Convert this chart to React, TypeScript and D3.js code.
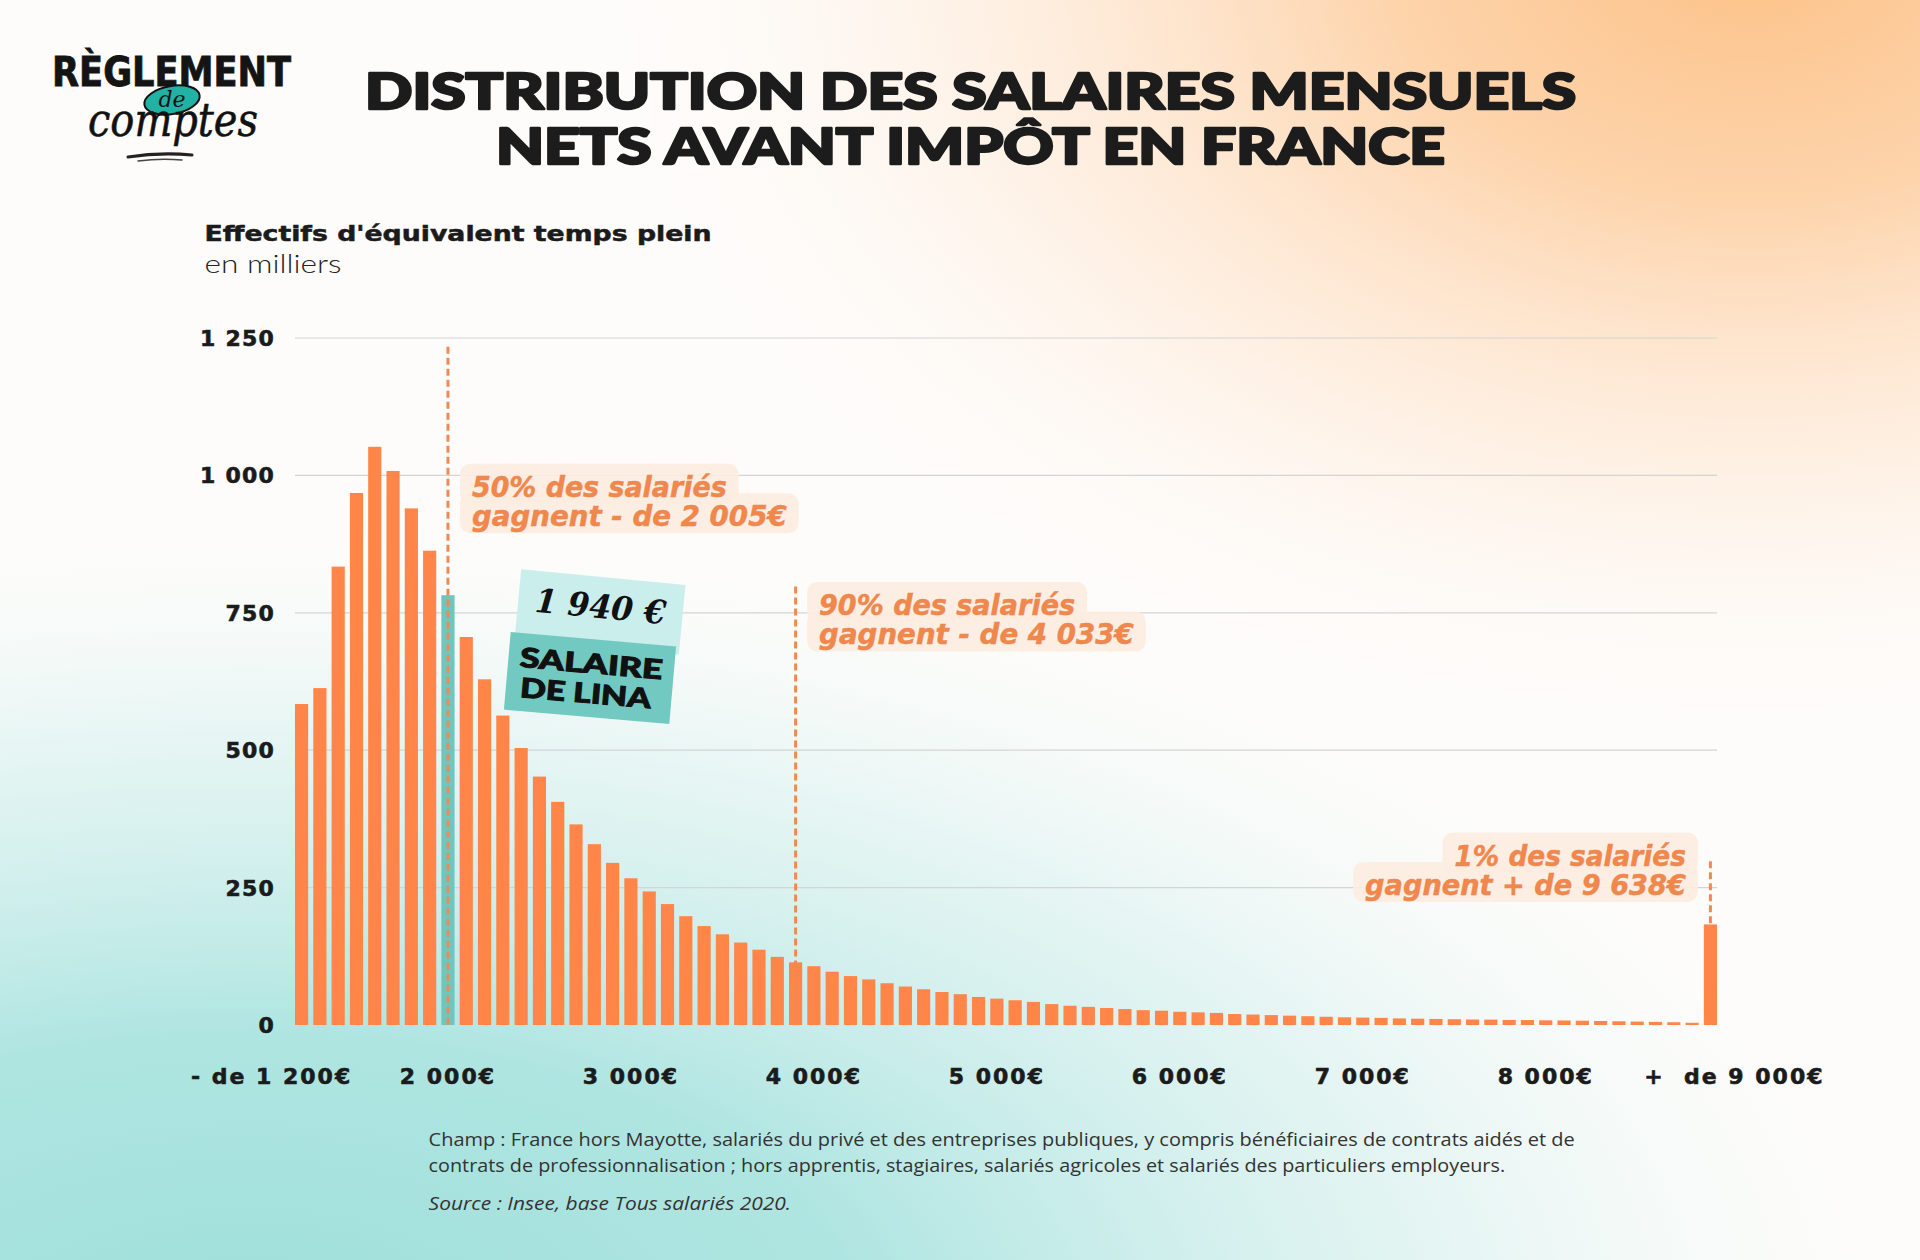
import React from "react";
import * as d3 from "d3";

// ---------- DATA ----------
// Monthly net salary bins (100 € wide), plus the two open-ended classes
const binStarts: number[] = d3.range(1200, 8800, 100);
const fmtThousands = (v: number) => d3.format(",")(v).replace(",", " ");
const categories: string[] = ["< 1 200", ...binStarts.map(fmtThousands), "> 9 000"];

// Full-time-equivalent workforce, in thousands
const workforce: number[] = [
  584, 613, 834, 968, 1052, 1008, 940, 863, 782, 706,
  629, 563, 504, 452, 406, 365, 329, 295, 267, 243,
  220, 198, 180, 165, 150, 137, 124, 114, 107, 97,
  89, 83, 76, 70, 65, 60, 56, 51, 48, 45,
  42, 38, 35, 33, 31, 29, 27, 26, 24, 23,
  22, 20, 19, 18, 17, 16, 15, 14, 13.5, 13,
  12, 11.5, 11, 10.5, 10, 9.8, 9.2, 9, 8.5, 8.2,
  7.8, 7.3, 6.8, 6.2, 5.6, 5, 4, 183,
];

const linaCategory = "1 900";
const linaSalary = "1 940 €";

const yTicks: number[] = [0, 250, 500, 750, 1000, 1250];
const yTickLabels: string[] = ["0", "250", "500", "750", "1 000", "1 250"];

const xTickCats: string[] = ["< 1 200", "1 900", "2 900", "3 900", "4 900", "5 900", "6 900", "7 900", "> 9 000"];
const xTickLabels: string[] = ["- de 1 200€", "2 000€", "3 000€", "4 000€", "5 000€", "6 000€", "7 000€", "8 000€", "+  de 9 000€"];

const annotationCats: string[] = ["1 900", "3 800", "> 9 000"];
const annotationTexts: string[][] = [
  ["50% des salariés", "gagnent - de 2 005€"],
  ["90% des salariés", "gagnent - de 4 033€"],
  ["1% des salariés", "gagnent + de 9 638€"],
];

const titleLines: string[] = ["DISTRIBUTION DES SALAIRES MENSUELS", "NETS AVANT IMPÔT EN FRANCE"];
const yTitle = "Effectifs d'équivalent temps plein";
const yUnit = "en milliers";
const notes: string[] = [
  "Champ : France hors Mayotte, salariés du privé et des entreprises publiques, y compris bénéficiaires de contrats aidés et de",
  "contrats de professionnalisation ; hors apprentis, stagiaires, salariés agricoles et salariés des particuliers employeurs.",
];
const source = "Source : Insee, base Tous salariés 2020.";

// ---------- COMPONENT ----------
const W = 1920;
const H = 1260;

const ORANGE = "#FF8548";
const TEAL_BAR = "#6EC6BF";
const ANNOT = "#F0874D";
const INK = "#1B1B1B";

export default function App() {
  const x = d3
    .scaleBand<string>()
    .domain(categories)
    .range([295, 1717])
    .paddingInner(0.28)
    .paddingOuter(0);
  const y = d3.scaleLinear().domain([0, 1250]).range([1025, 338]);
  const bw = x.bandwidth();
  const cx = (c: string) => (x(c) ?? 0) + bw / 2;

  const data = categories.map((c, i) => ({ c, v: workforce[i] }));

  // annotation layout (positions in chart units)
  const annotLayout = [
    { anchor: "start", dx: 24, top: 1234, bottomToBar: false, b1: 961, widths: [254.7, 314.7] },
    { anchor: "start", dx: 23.5, top: 798, bottomToBar: false, b1: 746, widths: [256, 314.7] },
    { anchor: "end", dx: -24.5, top: 298, bottomToBar: true, b1: 290, widths: [231.4, 320.8] },
  ];
  const lineGap = 29.4;

  const xTickDx = (i: number) => (i === 0 ? -30 : i === xTickCats.length - 1 ? 24 : 0);

  return (
    <svg
      width={W}
      height={H}
      viewBox={`0 0 ${W} ${H}`}
      style={{ position: "absolute", left: 0, top: 0, display: "block" }}
    >
      <defs>
        <radialGradient
          id="bgOrange"
          gradientUnits="userSpaceOnUse"
          cx={0}
          cy={0}
          r={1000}
          gradientTransform="translate(1750,-40) scale(1.2,0.8)"
        >
          <stop offset="0" stopColor="#FCC288" stopOpacity={1} />
          <stop offset="0.3" stopColor="#FDCEA0" stopOpacity={0.88} />
          <stop offset="0.65" stopColor="#FEE6D0" stopOpacity={0.5} />
          <stop offset="1" stopColor="#FFFFFF" stopOpacity={0} />
        </radialGradient>
        <radialGradient
          id="bgTeal"
          gradientUnits="userSpaceOnUse"
          cx={0}
          cy={0}
          r={1000}
          gradientTransform="translate(250,1330) scale(1.75,0.85)"
        >
          <stop offset="0" stopColor="#9EDFDA" stopOpacity={1} />
          <stop offset="0.35" stopColor="#ABE4E0" stopOpacity={0.95} />
          <stop offset="0.7" stopColor="#D6F1EF" stopOpacity={0.6} />
          <stop offset="1" stopColor="#FFFFFF" stopOpacity={0} />
        </radialGradient>
      </defs>

      {/* background */}
      <rect x={0} y={0} width={W} height={H} fill="#FEFCFA" />
      <rect x={0} y={0} width={W} height={H} fill="url(#bgOrange)" />
      <rect x={0} y={0} width={W} height={H} fill="url(#bgTeal)" />

      {/* logo */}
      <g>
        <text
          x={52}
          y={86}
          fontFamily="'Liberation Sans Narrow', 'DejaVu Sans Condensed', 'Roboto', sans-serif"
          fontWeight={700}
          fontSize={40}
          textLength={239}
          lengthAdjust="spacingAndGlyphs"
          fill="#141414"
          stroke="#141414"
          strokeWidth={0.8}
        >
          RÈGLEMENT
        </text>
        <ellipse cx={172} cy={100} rx={28} ry={14} transform="rotate(-10 172 100)" fill="#22B2A5" stroke="#111" strokeWidth={2} />
        <text x={172} y={107} textAnchor="middle" fontFamily="'DejaVu Serif', 'Liberation Serif', serif" fontStyle="italic" fontSize={22} fill="#111">
          de
        </text>
        <text
          x={88}
          y={136}
          fontFamily="'DejaVu Serif', 'Liberation Serif', serif"
          fontStyle="italic"
          fontSize={46}
          textLength={170}
          lengthAdjust="spacingAndGlyphs"
          fill="#111"
          stroke="#111"
          strokeWidth={0.6}
        >
          comptes
        </text>
        <path d="M128,157 Q160,152 192,155" stroke="#222" strokeWidth={3} fill="none" strokeLinecap="round" />
        <path d="M138,161 Q160,158 182,160" stroke="#444" strokeWidth={1.5} fill="none" strokeLinecap="round" />
      </g>

      {/* title */}
      {titleLines.map((t, i) => (
        <text
          key={t}
          x={970.5}
          y={109 + i * 55}
          textAnchor="middle"
          fontFamily="Lato, Inter, 'DejaVu Sans', sans-serif"
          fontWeight={900}
          fontSize={50}
          textLength={i === 0 ? 1211 : 949}
          lengthAdjust="spacingAndGlyphs"
          fill="#1C1C1C"
          stroke="#1C1C1C"
          strokeWidth={2.6}
          strokeLinejoin="round"
        >
          {t}
        </text>
      ))}

      {/* axis title */}
      <text
        x={204.5}
        y={241}
        fontFamily="'DejaVu Sans', sans-serif"
        fontWeight={700}
        fontSize={21}
        textLength={507}
        lengthAdjust="spacingAndGlyphs"
        fill={INK}
        stroke={INK}
        strokeWidth={0.5}
      >
        {yTitle}
      </text>
      <text
        x={204.5}
        y={273}
        fontFamily="Lato, 'Open Sans', sans-serif"
        fontWeight={300}
        fontSize={25}
        textLength={137}
        lengthAdjust="spacingAndGlyphs"
        fill="#222"
      >
        {yUnit}
      </text>

      {/* gridlines */}
      {yTicks
        .filter((t) => t > 0)
        .map((t) => (
          <line key={t} x1={295} x2={1717} y1={y(t)} y2={y(t)} stroke="#D4D4D4" strokeWidth={1.2} />
        ))}

      {/* y tick labels */}
      {yTicks.map((t, i) => (
        <text
          key={t}
          x={275}
          y={y(t) + 8}
          textAnchor="end"
          fontFamily="'DejaVu Sans', sans-serif"
          fontWeight={700}
          fontSize={22}
          letterSpacing={1.2}
          fill={INK}
          stroke={INK}
          strokeWidth={0.6}
        >
          {yTickLabels[i]}
        </text>
      ))}

      {/* bars */}
      {data.map((d) => (
        <rect
          key={d.c}
          x={x(d.c)}
          y={y(d.v)}
          width={bw}
          height={y(0) - y(d.v)}
          fill={d.c === linaCategory ? TEAL_BAR : ORANGE}
        />
      ))}

      {/* x tick labels */}
      {xTickCats.map((c, i) => (
        <text
          key={c}
          x={cx(c) + xTickDx(i)}
          y={1084}
          textAnchor="middle"
          fontFamily="'DejaVu Sans', sans-serif"
          fontWeight={700}
          fontSize={22}
          letterSpacing={2}
          fill={INK}
          stroke={INK}
          strokeWidth={0.6}
          style={{ whiteSpace: "pre" }}
        >
          {xTickLabels[i]}
        </text>
      ))}

      {/* annotations */}
      {annotationCats.map((c, k) => {
        const L = annotLayout[k];
        const lx = cx(c);
        const idx = categories.indexOf(c);
        const yBottom = L.bottomToBar ? y(workforce[idx]) : y(0);
        const tx = lx + L.dx;
        const b1 = y(L.b1);
        return (
          <g key={c}>
            {annotationTexts[k].map((t, j) => {
              const w = L.widths[j];
              const bx = L.anchor === "start" ? tx - 12 : tx - w - 12;
              const by = b1 + j * lineGap - 33;
              return <rect key={"b" + j} x={bx} y={by} width={w + 24} height={40} rx={10} fill="#FDECE0" fillOpacity={0.9} />;
            })}
            <line
              x1={lx}
              x2={lx}
              y1={y(L.top)}
              y2={yBottom}
              stroke="#EE8A55"
              strokeWidth={3}
              strokeDasharray="7 4"
            />
            {annotationTexts[k].map((t, j) => (
              <text
                key={"t" + j}
                x={tx}
                y={b1 + j * lineGap}
                textAnchor={L.anchor as any}
                fontFamily="'DejaVu Sans', sans-serif"
                fontWeight={700}
                fontStyle="italic"
                fontSize={28}
                textLength={L.widths[j]}
                lengthAdjust="spacingAndGlyphs"
                fill={ANNOT}
                stroke={ANNOT}
                strokeWidth={0.5}
              >
                {t}
              </text>
            ))}
          </g>
        );
      })}

      {/* Lina label */}
      <g transform="translate(600,612) rotate(5.5)">
        <rect x={-82.5} y={-35} width={165} height={70} fill="#C9EEEC" />
        <text
          x={0}
          y={6}
          textAnchor="middle"
          fontFamily="'DejaVu Serif', 'Liberation Serif', serif"
          fontWeight={700}
          fontStyle="italic"
          fontSize={33}
          textLength={131}
          lengthAdjust="spacingAndGlyphs"
          fill="#111"
        >
          {linaSalary}
        </text>
      </g>
      <g transform="translate(590,678) rotate(5)">
        <rect x={-83} y={-39} width={166} height={78} fill="#72C9C1" />
        <text
          x={0}
          y={-5}
          textAnchor="middle"
          fontFamily="Lato, 'DejaVu Sans', sans-serif"
          fontWeight={900}
          fontSize={27}
          textLength={143}
          lengthAdjust="spacingAndGlyphs"
          fill="#111"
          stroke="#111"
          strokeWidth={1}
        >
          SALAIRE
        </text>
        <text
          x={-3}
          y={25}
          textAnchor="middle"
          fontFamily="Lato, 'DejaVu Sans', sans-serif"
          fontWeight={900}
          fontSize={27}
          textLength={131}
          lengthAdjust="spacingAndGlyphs"
          fill="#111"
          stroke="#111"
          strokeWidth={1}
        >
          DE LINA
        </text>
      </g>

      {/* notes */}
      {notes.map((n, i) => (
        <text
          key={i}
          x={428.6}
          y={1146 + i * 26}
          fontFamily="'Open Sans', Lato, sans-serif"
          fontSize={18}
          textLength={i === 0 ? 1146 : 1076.5}
          lengthAdjust="spacingAndGlyphs"
          fill="#333"
        >
          {n}
        </text>
      ))}
      <text
        x={428.6}
        y={1210}
        fontFamily="'Open Sans', Lato, sans-serif"
        fontStyle="italic"
        fontSize={18}
        textLength={362.5}
        lengthAdjust="spacingAndGlyphs"
        fill="#333"
      >
        {source}
      </text>
    </svg>
  );
}
